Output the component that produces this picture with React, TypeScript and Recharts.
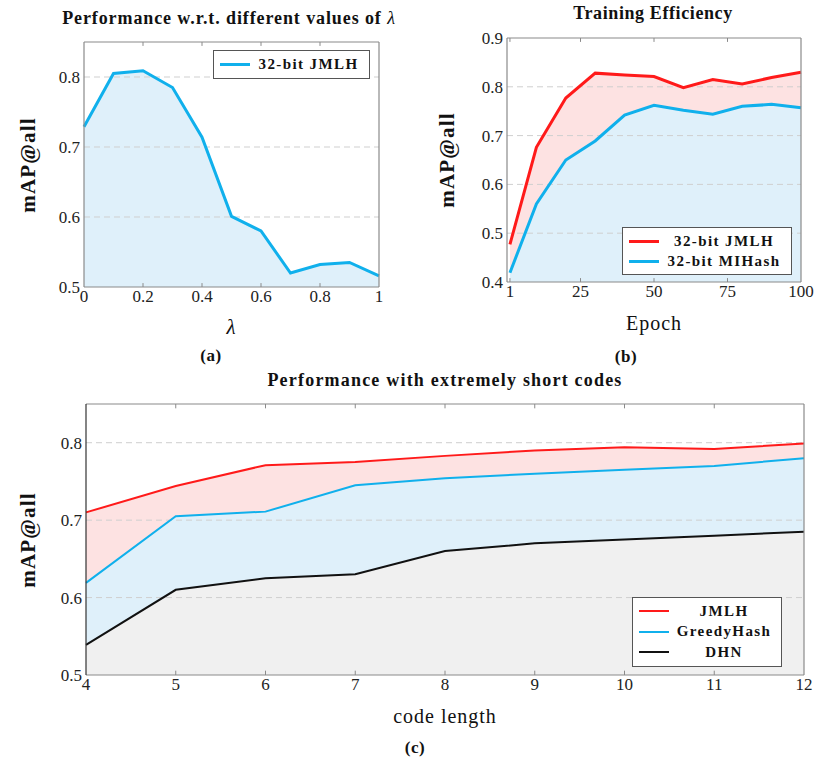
import React from 'react';
import { ComposedChart, Area, Line, XAxis, YAxis, ReferenceLine, Legend } from 'recharts';

// (a) lambda sweep
const lambdaValues = [0, 0.1, 0.2, 0.3, 0.4, 0.5, 0.6, 0.7, 0.8, 0.9, 1];
const jmlhLambda = [0.729, 0.805, 0.809, 0.785, 0.714, 0.601, 0.58, 0.52, 0.532, 0.535, 0.516];
const lambdaTicks = [0, 0.2, 0.4, 0.6, 0.8, 1];
const mapTicksA = [0.5, 0.6, 0.7, 0.8];

// (b) training efficiency
const epochs = [1, 10, 20, 30, 40, 50, 60, 70, 80, 90, 100];
const jmlhEpoch = [0.477, 0.676, 0.777, 0.828, 0.824, 0.821, 0.798, 0.815, 0.806, 0.819, 0.83];
const mihashEpoch = [0.419, 0.56, 0.65, 0.689, 0.742, 0.762, 0.752, 0.744, 0.76, 0.764, 0.757];
const epochTicks = [1, 25, 50, 75, 100];
const mapTicksB = [0.4, 0.5, 0.6, 0.7, 0.8, 0.9];

// (c) short codes
const codeLengths = [4, 5, 6, 7, 8, 9, 10, 11, 12];
const jmlhCode = [0.71, 0.744, 0.771, 0.775, 0.783, 0.79, 0.794, 0.792, 0.799];
const greedyCode = [0.619, 0.705, 0.711, 0.745, 0.754, 0.76, 0.765, 0.77, 0.78];
const dhnCode = [0.539, 0.61, 0.625, 0.63, 0.66, 0.67, 0.675, 0.68, 0.685];
const mapTicksC = [0.5, 0.6, 0.7, 0.8];

const RED = '#ff1a1a';
const BLUE = '#10b0ec';
const BLACK = '#111';
const PINK_FILL = '#fde2e2';
const BLUE_FILL = '#dff0fa';
const GRAY_FILL = '#f0f0f0';
const FRAME = '#8a8a8a';
const GRID = '#cfcfcf';

const serif = '"Liberation Serif", "Times New Roman", serif';
const tickStyle = { fontFamily: serif, fontSize: 17, fill: '#222' };

const dataA = lambdaValues.map((l, i) => ({ lambda: l, jmlh: jmlhLambda[i] }));
const dataB = epochs.map((e, i) => ({ epoch: e, jmlh: jmlhEpoch[i], mihash: mihashEpoch[i] }));
const dataC = codeLengths.map((c, i) => ({
  len: c,
  jmlh: jmlhCode[i],
  greedy: greedyCode[i],
  dhn: dhnCode[i],
}));

function Text({ x, y, children, style }: any) {
  return (
    <div
      style={{
        position: 'absolute',
        left: x,
        top: y,
        transform: 'translate(-50%, -50%)',
        whiteSpace: 'nowrap',
        color: '#111',
        lineHeight: 1,
        ...style,
      }}
    >
      {children}
    </div>
  );
}

function YLabel({ x, y }: { x: number; y: number }) {
  return (
    <Text
      x={x}
      y={y}
      style={{ transform: 'translate(-50%, -50%) rotate(-90deg)', fontWeight: 700, fontSize: 21, letterSpacing: 1.2 }}
    >
      mAP@all
    </Text>
  );
}

function LegendBox({ items, lineWidth, rowHeight }: any) {
  return (
    <div
      style={{
        border: '1px solid #555',
        background: '#fff',
        padding: '3px 6px',
        fontFamily: serif,
        fontWeight: 700,
        fontSize: 15,
        letterSpacing: 1.4,
        boxSizing: 'border-box',
        color: '#111',
      }}
    >
      {items.map((it: any) => (
        <div key={it.name} style={{ display: 'flex', alignItems: 'center', height: rowHeight }}>
          <div style={{ width: 30, height: lineWidth, background: it.color, flex: 'none' }} />
          <div style={{ flex: 1, textAlign: 'center', paddingLeft: 4 }}>{it.name}</div>
        </div>
      ))}
    </div>
  );
}

// dashed horizontal grid drawn over the fills
function gridLines(yTicks: number[], yDomain: number[]) {
  return yTicks
    .filter((t) => t > yDomain[0] && t < yDomain[1])
    .map((t) => (
      <ReferenceLine key={'g' + t} y={t} stroke={GRID} strokeWidth={1} strokeDasharray="6 4" />
    ));
}

// box frame with small inner ticks on top and bottom
function frame(xDomain: number[], xTicks: number[], yDomain: number[], leftColor = FRAME) {
  const [x0, x1] = xDomain;
  const [y0, y1] = yDomain;
  const tl = (y1 - y0) * 0.016;
  const inner = xTicks.filter((t) => t > x0 && t < x1);
  return [
    ...inner.map((t) => (
      <ReferenceLine key={'tt' + t} segment={[{ x: t, y: y1 }, { x: t, y: y1 - tl }]} stroke={FRAME} />
    )),
    ...inner.map((t) => (
      <ReferenceLine key={'tb' + t} segment={[{ x: t, y: y0 }, { x: t, y: y0 + tl }]} stroke={FRAME} />
    )),
    <ReferenceLine key="fr" x={x1} stroke={FRAME} strokeWidth={1.2} />,
    <ReferenceLine key="ft" y={y1} stroke={FRAME} strokeWidth={1.2} />,
    <ReferenceLine key="fb" y={y0} stroke={FRAME} strokeWidth={1.2} />,
    <ReferenceLine key="fl" x={x0} stroke={leftColor} strokeWidth={1.2} />,
  ];
}

function fill(key: string, color: string) {
  return (
    <Area
      key={'a' + key}
      type="linear"
      dataKey={key}
      stroke="none"
      fill={color}
      fillOpacity={1}
      dot={false}
      activeDot={false}
      legendType="none"
      isAnimationActive={false}
    />
  );
}

function curve(key: string, name: string, color: string, width: number) {
  return (
    <Line
      key={'l' + key}
      type="linear"
      dataKey={key}
      name={name}
      stroke={color}
      strokeWidth={width}
      dot={false}
      activeDot={false}
      isAnimationActive={false}
    />
  );
}

function axes(xKey: string, xDomain: number[], xTicks: number[], yDomain: number[], yTicks: number[]) {
  return [
    <XAxis
      key="x"
      dataKey={xKey}
      type="number"
      domain={xDomain}
      ticks={xTicks}
      tick={tickStyle}
      tickLine={false}
      axisLine={false}
      tickSize={0}
      tickMargin={3}
      height={24}
    />,
    <YAxis
      key="y"
      type="number"
      domain={yDomain}
      ticks={yTicks}
      tick={tickStyle}
      tickFormatter={(v: number) => String(v)}
      tickLine={false}
      axisLine={false}
      tickSize={0}
      tickMargin={4}
      width={44}
    />,
  ];
}

export default function App() {
  return (
    <div style={{ position: 'absolute', left: 0, top: 0, width: 831, height: 759, background: '#fff', fontFamily: serif }}>
      {/* (a) */}
      <div style={{ position: 'absolute', left: 0, top: 0 }}>
        <ComposedChart width={400} height={330} data={dataA} margin={{ top: 42, right: 21, bottom: 19, left: 40 }}>
          {axes('lambda', [0, 1], lambdaTicks, [0.5, 0.85], mapTicksA)}
          {fill('jmlh', BLUE_FILL)}
          {gridLines(mapTicksA, [0.5, 0.85])}
          {curve('jmlh', '32-bit JMLH', BLUE, 3)}
          {frame([0, 1], lambdaTicks, [0.5, 0.85])}
          <Legend
            layout="vertical"
            align="center"
            verticalAlign="middle"
            wrapperStyle={{ left: 213, top: 50, width: 157 }}
            content={() => <LegendBox items={[{ name: '32-bit JMLH', color: BLUE }]} lineWidth={3} rowHeight={21} />}
          />
        </ComposedChart>
      </div>
      <Text x={229} y={18} style={{ fontWeight: 700, fontSize: 18, letterSpacing: 0.9 }}>
        Performance w.r.t. different values of <i style={{ fontWeight: 400 }}>λ</i>
      </Text>
      <YLabel x={28} y={165} />
      <Text x={231} y={327} style={{ fontStyle: 'italic', fontSize: 21 }}>λ</Text>
      <Text x={211} y={355} style={{ fontWeight: 700, fontSize: 17, letterSpacing: 0.5 }}>(a)</Text>

      {/* (b) */}
      <div style={{ position: 'absolute', left: 420, top: 0 }}>
        <ComposedChart width={411} height={330} data={dataB} margin={{ top: 38, right: 30, bottom: 24, left: 43 }}>
          {axes('epoch', [0, 100], epochTicks, [0.4, 0.9], mapTicksB)}
          {fill('jmlh', PINK_FILL)}
          {fill('mihash', BLUE_FILL)}
          {gridLines(mapTicksB, [0.4, 0.9])}
          {curve('jmlh', '32-bit JMLH', RED, 3)}
          {curve('mihash', '32-bit MIHash', BLUE, 3)}
          {frame([0, 100], epochTicks, [0.4, 0.9])}
          <Legend
            layout="vertical"
            align="center"
            verticalAlign="middle"
            wrapperStyle={{ left: 202, top: 227, width: 170 }}
            content={() => (
              <LegendBox
                items={[
                  { name: '32-bit JMLH', color: RED },
                  { name: '32-bit MIHash', color: BLUE },
                ]}
                lineWidth={3}
                rowHeight={20}
              />
            )}
          />
        </ComposedChart>
      </div>
      <Text x={653} y={13} style={{ fontWeight: 700, fontSize: 18, letterSpacing: 0.6 }}>Training Efficiency</Text>
      <YLabel x={447} y={160} />
      <Text x={654} y={323} style={{ fontSize: 20, letterSpacing: 1 }}>Epoch</Text>
      <Text x={626} y={356} style={{ fontWeight: 700, fontSize: 17, letterSpacing: 0.5 }}>(b)</Text>

      {/* (c) */}
      <div style={{ position: 'absolute', left: 0, top: 370 }}>
        <ComposedChart width={831} height={340} data={dataC} margin={{ top: 34, right: 27, bottom: 11, left: 42 }}>
          {axes('len', [4, 12], codeLengths, [0.5, 0.85], mapTicksC)}
          {fill('jmlh', PINK_FILL)}
          {fill('greedy', BLUE_FILL)}
          {fill('dhn', GRAY_FILL)}
          {gridLines(mapTicksC, [0.5, 0.85])}
          {curve('jmlh', 'JMLH', RED, 2)}
          {curve('greedy', 'GreedyHash', BLUE, 2)}
          {curve('dhn', 'DHN', BLACK, 2)}
          {frame([4, 12], codeLengths, [0.5, 0.85], '#333')}
          <Legend
            layout="vertical"
            align="center"
            verticalAlign="middle"
            wrapperStyle={{ left: 632, top: 227, width: 150 }}
            content={() => (
              <LegendBox
                items={[
                  { name: 'JMLH', color: RED },
                  { name: 'GreedyHash', color: BLUE },
                  { name: 'DHN', color: BLACK },
                ]}
                lineWidth={2}
                rowHeight={20.5}
              />
            )}
          />
        </ComposedChart>
      </div>
      <Text x={445} y={380} style={{ fontWeight: 700, fontSize: 18, letterSpacing: 1.2 }}>
        Performance with extremely short codes
      </Text>
      <YLabel x={28} y={540} />
      <Text x={445} y={716} style={{ fontSize: 20, letterSpacing: 1 }}>code length</Text>
      <Text x={415} y={747} style={{ fontWeight: 700, fontSize: 17, letterSpacing: 0.5 }}>(c)</Text>
    </div>
  );
}
